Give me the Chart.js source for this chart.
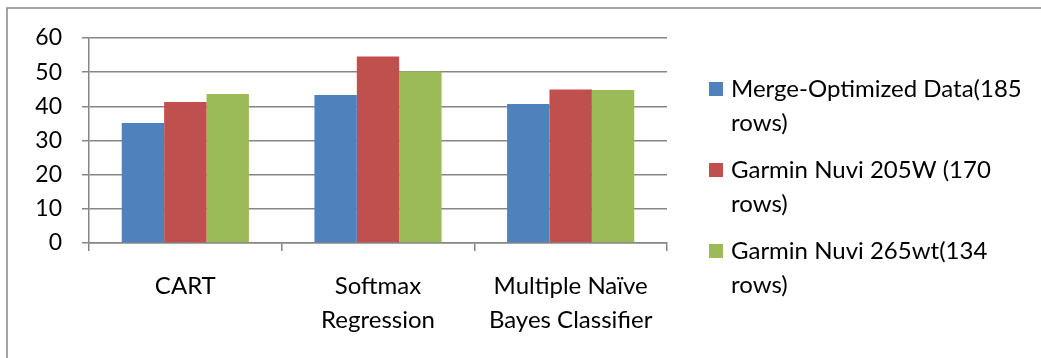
<!DOCTYPE html>
<html>
<head>
<meta charset="utf-8">
<script src="https://cdn.jsdelivr.net/npm/chart.js@4"></script>
<style>
  html, body { margin: 0; padding: 0; background: #fff; }
  #wrap { width: 1041px; height: 358px; position: relative; }
</style>
</head>
<body>
<div id="wrap"><canvas id="chart"></canvas></div>
<script>
// data
const categories = [["CART"], ["Softmax", "Regression"], ["Multiple Naïve", "Bayes Classifier"]];
const seriesNames = ["Merge-Optimized Data(185 rows)", "Garmin Nuvi 205W (170 rows)", "Garmin Nuvi 265wt(134 rows)"];
const mergeOptimized = [35.1, 43.3, 40.7];
const nuvi205 = [41.3, 54.6, 44.9];
const nuvi265 = [43.6, 50.2, 44.8];
const yTicks = [0, 10, 20, 30, 40, 50, 60];

const colors = ["#4F81BD", "#C0504D", "#9BBB59"];
const gray = "#868686";
const FONT = "Lato";

// outer frame (only top and left edges are visible)
const framePlugin = {
  id: "frame",
  beforeDraw(chart) {
    const ctx = chart.ctx;
    ctx.save();
    ctx.strokeStyle = gray;
    ctx.lineWidth = 1.5;
    ctx.beginPath();
    ctx.moveTo(7, 358);
    ctx.lineTo(7, 8);
    ctx.lineTo(1041, 8);
    ctx.stroke();
    ctx.restore();
  }
};

// legend on the right, each label wrapped onto two lines
const sideLegend = {
  id: "sideLegend",
  afterDraw(chart) {
    const ctx = chart.ctx;
    ctx.save();
    ctx.font = "24px " + FONT;
    ctx.textBaseline = "middle";
    chart.data.datasets.forEach((ds, i) => {
      const y = 89 + i * 81;
      ctx.fillStyle = ds.backgroundColor;
      ctx.fillRect(709, y - 7, 14, 14);
      const cut = ds.label.lastIndexOf(" ");
      const lines = [ds.label.slice(0, cut), ds.label.slice(cut + 1)];
      ctx.fillStyle = "#000";
      lines.forEach((t, j) => ctx.fillText(t, 731, y + j * 34));
    });
    ctx.restore();
  }
};

const values = [mergeOptimized, nuvi205, nuvi265];

new Chart(document.getElementById("chart"), {
  type: "bar",
  data: {
    labels: categories,
    datasets: values.map((d, i) => ({
      label: seriesNames[i],
      data: d,
      backgroundColor: colors[i],
      borderWidth: 0,
      barPercentage: 1,
      categoryPercentage: 0.66
    }))
  },
  options: {
    responsive: true,
    maintainAspectRatio: false,
    animation: false,
    layout: { padding: { top: 38, right: 374, left: 0, bottom: 0 } },
    plugins: {
      legend: { display: false },
      tooltip: { enabled: false }
    },
    scales: {
      x: {
        grid: { display: true, drawOnChartArea: false, color: gray, lineWidth: 1.5, tickLength: 8, offset: true },
        border: { color: gray, width: 1.5 },
        ticks: { color: "#000", font: { family: FONT, size: 24, lineHeight: 1.42 }, padding: 18, maxRotation: 0, autoSkip: false },
        afterFit(s) { s.height = 115; }
      },
      y: {
        min: 0,
        max: 60,
        afterBuildTicks(s) { s.ticks = yTicks.map(v => ({ value: v })); },
        grid: { color: gray, lineWidth: 1.5, tickLength: 7 },
        border: { color: gray, width: 1.5 },
        ticks: { color: "#000", font: { family: FONT, size: 23 }, padding: 20 },
        afterFit(s) { s.width = 89; }
      }
    }
  },
  plugins: [framePlugin, sideLegend]
});
</script>
</body>
</html>
